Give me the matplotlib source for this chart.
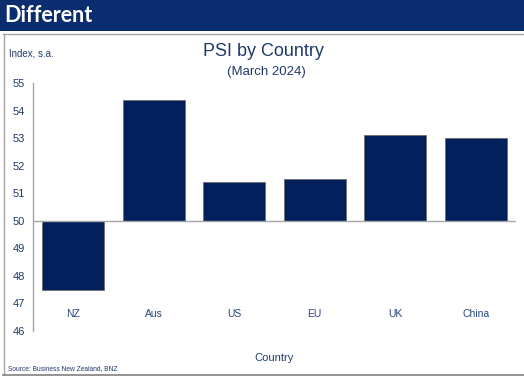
import matplotlib
matplotlib.use("Agg")
import matplotlib.pyplot as plt
from matplotlib.patches import Rectangle
from matplotlib.lines import Line2D

categories = ["NZ", "Aus", "US", "EU", "UK", "China"]
values = [47.5, 54.4, 51.4, 51.5, 53.1, 53.0]
baseline = 50
yticks = [46, 47, 48, 49, 50, 51, 52, 53, 54, 55]

W, H = 524, 376
fig = plt.figure(figsize=(W / 100, H / 100), dpi=100)
fig.patch.set_facecolor("white")

navy = "#0B2C6F"
text_col = "#1F3A68"
bar_col = "#03205C"

# header bar
fig.patches.append(Rectangle((0, 1 - 31 / H), 1, 31 / H, transform=fig.transFigure,
                             facecolor=navy, edgecolor="none", zorder=0))
fig.text(4 / W, 1 - 15.5 / H, "Different", color="white", fontsize=15.5, fontweight="bold",
         family="Lato", va="center", ha="left")
# border lines (top, left, bottom)
bc = "#A6A6A6"
fig.lines.append(Line2D([3 / W, 1], [1 - 33.5 / H, 1 - 33.5 / H], transform=fig.transFigure, color=bc, lw=1))
fig.lines.append(Line2D([3.5 / W, 3.5 / W], [1 - 33.5 / H, 1 - 375 / H], transform=fig.transFigure, color=bc, lw=1))
fig.lines.append(Line2D([3 / W, 1], [1 - 375 / H, 1 - 375 / H], transform=fig.transFigure, color="#808080", lw=1.2))

ax = fig.add_axes([33 / W, 1 - 331 / H, (516 - 33) / W, (331 - 83) / H])
x = list(range(len(categories)))
heights = [v - baseline for v in values]
ax.bar(x, heights, bottom=baseline, width=0.77, color=bar_col, edgecolor="#6E6E6E",
       linewidth=0.6, zorder=2)
ax.axhline(baseline, color="#A6A6A6", lw=1, zorder=3)
ax.set_xlim(-0.5, len(categories) - 0.5)
ax.set_ylim(46, 55)
ax.set_yticks(yticks)
ax.set_yticklabels([str(t) for t in yticks], color=text_col, fontsize=8, family="Liberation Sans")
ax.tick_params(axis="y", length=0, pad=6)
ax.set_xticks([])
for s in ["top", "right", "bottom"]:
    ax.spines[s].set_visible(False)
ax.spines["left"].set_color("#A6A6A6")
ax.spines["left"].set_linewidth(1)

for i, c in enumerate(categories):
    ax.text(i, 46.63, c, ha="center", va="center", color="#24467E", fontsize=7.5,
            family="Liberation Sans")

fig.text(263 / W, 1 - 52 / H, "PSI by Country", ha="center", va="center", color=text_col,
         fontsize=13, family="Liberation Sans")
fig.text(266 / W, 1 - 72 / H, "(March 2024)", ha="center", va="center", color=text_col,
         fontsize=9.5, family="Liberation Sans")
fig.text(9 / W, 1 - 54 / H, "Index, s.a.", ha="left", va="center", color=text_col,
         fontsize=7, family="Liberation Sans")
fig.text(274 / W, 1 - 358 / H, "Country", ha="center", va="center", color=text_col,
         fontsize=8, family="Liberation Sans")
fig.text(8 / W, 1 - 369 / H, "Source: Business New Zealand, BNZ", ha="left", va="center",
         color="#1F3A68", fontsize=4.8, family="Liberation Sans")

fig.savefig("out.png", dpi=100)
